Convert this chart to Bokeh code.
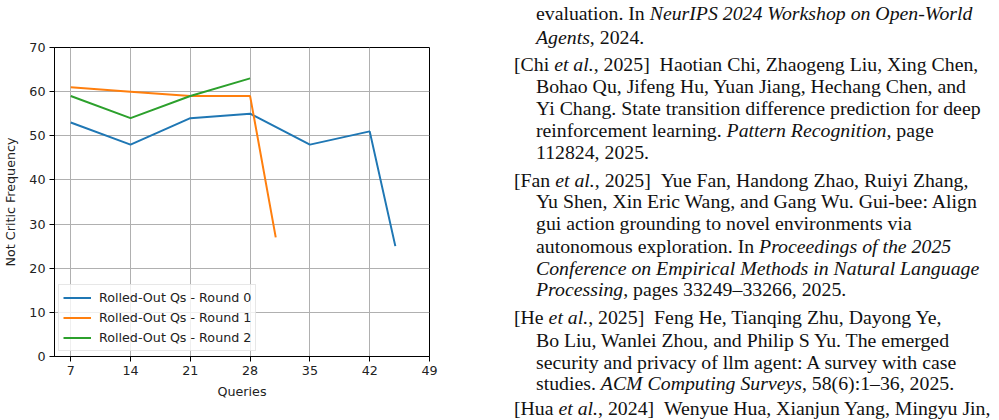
from bokeh.plotting import figure
from bokeh.models import Range1d, FixedTicker, Legend, LegendItem, Div
from bokeh.layouts import row
from bokeh.embed import file_html
from bokeh.resources import INLINE

# ---- chart data ----
queries_r0 = [7, 14, 21, 28, 35, 42, 45]
freq_r0 = [53, 48, 54, 55, 48, 51, 25]
queries_r1 = [7, 14, 21, 28, 31]
freq_r1 = [61, 60, 59, 59, 27]
queries_r2 = [7, 14, 21, 28]
freq_r2 = [59, 54, 59, 63]
series_names = ["Rolled-Out Qs - Round 0", "Rolled-Out Qs - Round 1", "Rolled-Out Qs - Round 2"]
x_ticks = [7, 14, 21, 28, 35, 42, 49]
y_ticks = [0, 10, 20, 30, 40, 50, 60, 70]

# ---- bibliography text (right side) ----
bib_lines = [
    (46, 13, "evaluation. In <i>NeurIPS 2024 Workshop on Open-World</i>"),
    (46, 37, "<i>Agents</i>, 2024."),
    (24, 64, "[Chi <i>et al.</i>, 2025]&ensp;Haotian Chi, Zhaogeng Liu, Xing Chen,"),
    (46, 86, "Bohao Qu, Jifeng Hu, Yuan Jiang, Hechang Chen, and"),
    (46, 108, "Yi Chang. State transition difference prediction for deep"),
    (46, 130, "reinforcement learning. <i>Pattern Recognition</i>, page"),
    (46, 152, "112824, 2025."),
    (24, 180, "[Fan <i>et al.</i>, 2025]&ensp;Yue Fan, Handong Zhao, Ruiyi Zhang,"),
    (46, 201, "Yu Shen, Xin Eric Wang, and Gang Wu. Gui-bee: Align"),
    (46, 223, "gui action grounding to novel environments via"),
    (46, 246, "autonomous exploration. In <i>Proceedings of the 2025</i>"),
    (46, 268, "<i>Conference on Empirical Methods in Natural Language</i>"),
    (46, 289, "<i>Processing</i>, pages 33249–33266, 2025."),
    (24, 317, "[He <i>et al.</i>, 2025]&ensp;Feng He, Tianqing Zhu, Dayong Ye,"),
    (46, 340, "Bo Liu, Wanlei Zhou, and Philip S Yu. The emerged"),
    (46, 362, "security and privacy of llm agent: A survey with case"),
    (46, 383, "studies. <i>ACM Computing Surveys</i>, 58(6):1–36, 2025."),
    (24, 408, "[Hua <i>et al.</i>, 2024]&ensp;Wenyue Hua, Xianjun Yang, Mingyu Jin,"),
]

colors = ["#1f77b4", "#ff7f0e", "#2ca02c"]
FONT = "DejaVu Sans"
FS = "12.7px"

p = figure(width=490, height=420, x_range=Range1d(5.1, 49), y_range=Range1d(0, 70),
           output_backend="svg", toolbar_location=None,
           min_border_left=52, min_border_right=61, min_border_top=47, min_border_bottom=64)
p.margin = 0
p.background_fill_color = "white"
p.border_fill_color = "white"
p.outline_line_color = "black"
p.outline_line_width = 1

r0 = p.line(queries_r0, freq_r0, line_color=colors[0], line_width=2)
r1 = p.line(queries_r1, freq_r1, line_color=colors[1], line_width=2)
r2 = p.line(queries_r2, freq_r2, line_color=colors[2], line_width=2)

p.xaxis.ticker = FixedTicker(ticks=x_ticks)
p.yaxis.ticker = FixedTicker(ticks=y_ticks)
for ax in (p.xaxis[0], p.yaxis[0]):
    ax.axis_line_color = "black"
    ax.major_tick_line_color = "black"
    ax.major_tick_out = 5
    ax.major_tick_in = 0
    ax.minor_tick_line_color = None
    ax.major_label_text_font = FONT
    ax.major_label_text_font_size = FS
    ax.major_label_text_color = "#222222"
    ax.axis_label_text_font = FONT
    ax.axis_label_text_font_size = FS
    ax.axis_label_text_font_style = "normal"
    ax.axis_label_text_color = "#222222"
    ax.major_label_standoff = 4
p.xaxis.axis_label = "Queries"
p.yaxis.axis_label = "Not Critic Frequency"
p.xaxis.axis_label_standoff = 6
p.yaxis.axis_label_standoff = 8

p.grid.grid_line_color = "#b0b0b0"
p.grid.grid_line_width = 1
p.xgrid.ticker = FixedTicker(ticks=x_ticks)
p.ygrid.ticker = FixedTicker(ticks=y_ticks)

legend = Legend(items=[LegendItem(label=series_names[0], renderers=[r0]),
                       LegendItem(label=series_names[1], renderers=[r1]),
                       LegendItem(label=series_names[2], renderers=[r2])],
                location=(4, 5))
legend.label_text_font = FONT
legend.label_text_font_size = FS
legend.label_text_color = "#222222"
legend.border_line_color = "#d0d0d0"
legend.border_line_width = 1
legend.background_fill_alpha = 0.8
legend.padding = 4
legend.spacing = 3
legend.margin = 0
legend.glyph_width = 28
legend.glyph_height = 17
legend.label_height = 17
legend.label_standoff = 8
p.add_layout(legend)

spans = []
for x, yc, html in bib_lines:
    spans.append(
        f'<div style="position:absolute; left:{x}px; top:{yc - 11}px; height:22px; line-height:22px; white-space:nowrap;">{html}</div>'
    )
bib_html = ('<div style="position:relative; width:509px; height:420px; overflow:hidden; '
            'font-family:\'Liberation Serif\', \'Times New Roman\', serif; font-size:19.8px; color:#111;">'
            + "".join(spans) + '</div>')
div = Div(text=bib_html, width=509, height=420, margin=0)

layout = row(p, div, spacing=0)
layout.margin = 0

open("out.html", "w").write(file_html(layout, INLINE))
